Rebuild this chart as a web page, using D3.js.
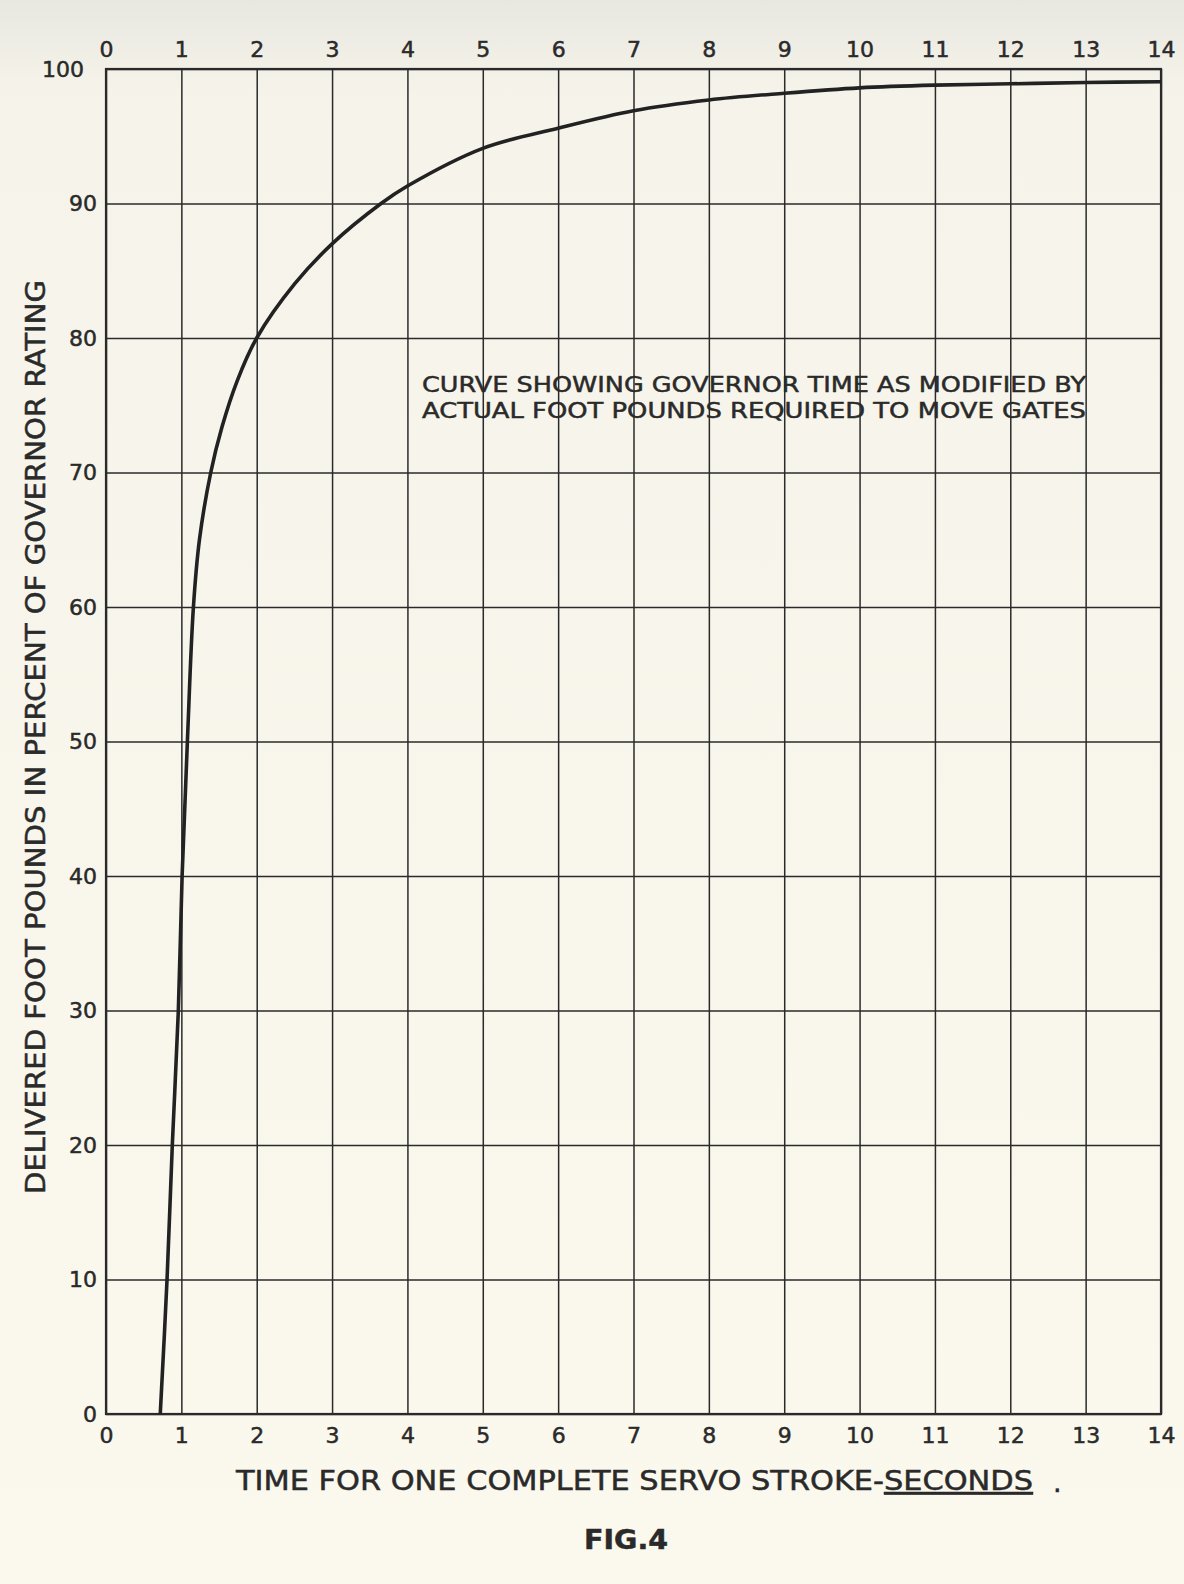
<!DOCTYPE html>
<html>
<head>
<meta charset="utf-8">
<script src="https://cdn.jsdelivr.net/npm/d3@7"></script>
<style>
  html, body { margin: 0; padding: 0; background: #f8f6ea; }
  svg { display: block; }
  text { font-family: "DejaVu Sans", "Liberation Sans", sans-serif; fill: #2a2a2a; stroke: #2a2a2a; stroke-width: 0.5px; }
</style>
</head>
<body>
<svg id="chart" width="1184" height="1584"></svg>
<script>
// ---- data ----
const timeSeconds = [0.72, 0.81, 0.88, 0.96, 1.01, 1.08, 1.16, 1.24, 1.39, 1.54, 1.74, 2.00, 2.50, 3.00, 3.65, 4.00, 5.00, 6.00, 7.00, 8.00, 9.00, 10.00, 11.00, 12.00, 13.00, 14.00];
const deliveredPct = [0, 10, 20, 30, 40, 50, 60, 65, 70, 73.4, 76.8, 80, 84.0, 87, 90, 91.3, 94.1, 95.6, 96.9, 97.7, 98.2, 98.6, 98.8, 98.9, 99.0, 99.05];
const xTicks = [0, 1, 2, 3, 4, 5, 6, 7, 8, 9, 10, 11, 12, 13, 14];
const xTickLabels = ["0", "1", "2", "3", "4", "5", "6", "7", "8", "9", "10", "11", "12", "13", "14"];
const yTicks = [0, 10, 20, 30, 40, 50, 60, 70, 80, 90, 100];
const yTickLabels = ["0", "10", "20", "30", "40", "50", "60", "70", "80", "90", "100"];
const xTitle = "TIME FOR ONE COMPLETE SERVO STROKE-";
const xTitleUnderlined = "SECONDS";
const yTitle = "DELIVERED FOOT POUNDS IN PERCENT OF GOVERNOR RATING";
const noteLines = ["CURVE SHOWING GOVERNOR TIME AS MODIFIED BY", "ACTUAL FOOT POUNDS REQUIRED TO MOVE GATES"];
const figLabel = "FIG.4";

// ---- layout ----
const W = 1184, H = 1584;
const mLeft = 106, mRight = 1161, mTop = 69, mBottom = 1414;
const ink = "#2a2a2a";

const svg = d3.select("#chart");

// paper background
const defs = svg.append("defs");
const grad = defs.append("linearGradient").attr("id", "paper").attr("x1", 0).attr("y1", 0).attr("x2", 0).attr("y2", 1);
grad.append("stop").attr("offset", "0").attr("stop-color", "#e8e7e0");
grad.append("stop").attr("offset", "0.06").attr("stop-color", "#f6f4ea");
grad.append("stop").attr("offset", "1").attr("stop-color", "#fbf9ee");
svg.append("rect").attr("width", W).attr("height", H).attr("fill", "url(#paper)");

const x = d3.scaleLinear().domain([0, 14]).range([mLeft, mRight]);
const y = d3.scaleLinear().domain([0, 100]).range([mBottom, mTop]);

// grid lines (vertical & horizontal) via axes
const gridX = svg.append("g").attr("transform", `translate(0,${mBottom})`)
  .call(d3.axisBottom(x).tickValues(xTicks).tickSize(-(mBottom - mTop)).tickFormat(""));
gridX.select(".domain").remove();
gridX.selectAll("line").attr("stroke", ink).attr("stroke-width", 1.5);

const gridY = svg.append("g").attr("transform", `translate(${mLeft},0)`)
  .call(d3.axisLeft(y).tickValues(yTicks).tickSize(-(mRight - mLeft)).tickFormat(""));
gridY.select(".domain").remove();
gridY.selectAll("line").attr("stroke", ink).attr("stroke-width", 1.5);

// frame
svg.append("rect").attr("x", mLeft).attr("y", mTop).attr("width", mRight - mLeft).attr("height", mBottom - mTop)
  .attr("fill", "none").attr("stroke", ink).attr("stroke-width", 2.2);

// tick label axes
function styleLabels(g, size) {
  g.select(".domain").remove();
  g.selectAll(".tick line").remove();
  g.selectAll("text").style("font-family", '"DejaVu Sans", sans-serif').style("font-size", size + "px").attr("fill", ink);
}
const axTop = svg.append("g").attr("transform", `translate(0,${mTop})`)
  .call(d3.axisTop(x).tickValues(xTicks).tickSize(0).tickPadding(12).tickFormat((d, i) => xTickLabels[i]));
styleLabels(axTop, 22);

const axBottom = svg.append("g").attr("transform", `translate(0,${mBottom})`)
  .call(d3.axisBottom(x).tickValues(xTicks).tickSize(0).tickPadding(13).tickFormat((d, i) => xTickLabels[i]));
styleLabels(axBottom, 22);

const axLeft = svg.append("g").attr("transform", `translate(${mLeft},0)`)
  .call(d3.axisLeft(y).tickValues(yTicks).tickSize(0).tickPadding(9).tickFormat((d, i) => yTickLabels[i]));
styleLabels(axLeft, 22);
axLeft.selectAll(".tick").filter(d => d === 100).select("text").attr("x", -22);

// curve
const line = d3.line().x((d, i) => x(timeSeconds[i])).y(d => y(d)).curve(d3.curveCatmullRom.alpha(0.5));
svg.append("path").datum(deliveredPct).attr("d", line)
  .attr("fill", "none").attr("stroke", "#222").attr("stroke-width", 3.6).attr("stroke-linejoin", "round");

// annotation
svg.append("text").attr("x", 422).attr("y", 392).attr("textLength", 664).attr("lengthAdjust", "spacingAndGlyphs")
  .style("font-size", "22px").text(noteLines[0]);
svg.append("text").attr("x", 422).attr("y", 418).attr("textLength", 664).attr("lengthAdjust", "spacingAndGlyphs")
  .style("font-size", "22px").text(noteLines[1]);

// x title
const xt = svg.append("text").attr("x", 236).attr("y", 1490).style("font-size", "27px");
xt.append("tspan").text(xTitle);
xt.append("tspan").text(xTitleUnderlined).style("text-decoration", "underline");
xt.attr("textLength", 797).attr("lengthAdjust", "spacingAndGlyphs");
svg.append("text").attr("x", 1053).attr("y", 1492).style("font-size", "27px").text(".");

// y title
svg.append("text").attr("transform", `translate(45,737) rotate(-90)`).attr("text-anchor", "middle")
  .attr("textLength", 914).attr("lengthAdjust", "spacingAndGlyphs")
  .style("font-size", "27px").text(yTitle);

// figure label
svg.append("text").attr("x", 626).attr("y", 1549).attr("text-anchor", "middle")
  .attr("textLength", 84).attr("lengthAdjust", "spacingAndGlyphs")
  .style("font-size", "27px").style("font-weight", "600").text(figLabel);
</script>
</body>
</html>
